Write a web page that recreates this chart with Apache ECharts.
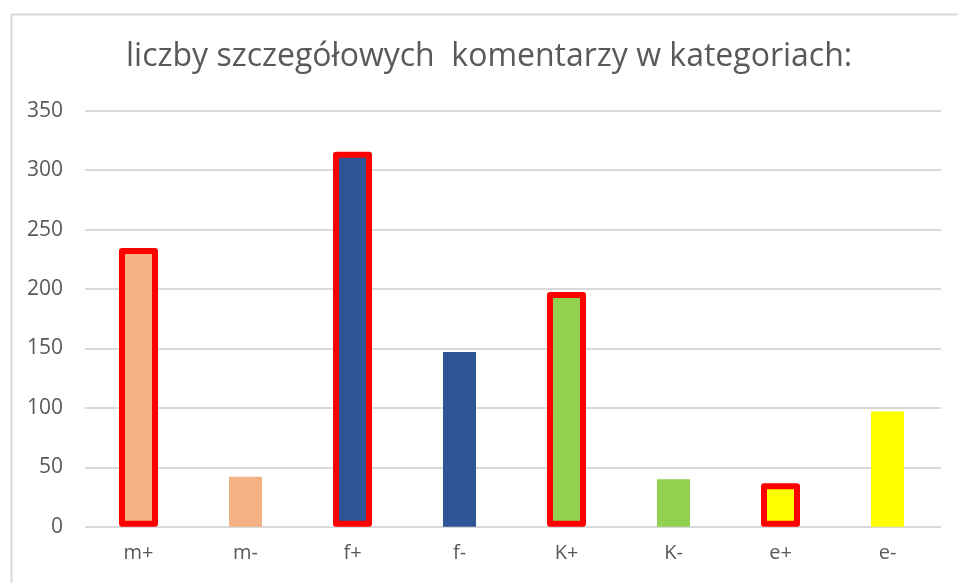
<!DOCTYPE html>
<html>
<head>
<meta charset="utf-8">
<script src="https://cdn.jsdelivr.net/npm/echarts@6/dist/echarts.min.js"></script>
<style>
  html, body { margin: 0; padding: 0; background: #fff; }
  #chart { width: 958px; height: 583px; }
</style>
</head>
<body>
<div id="chart"></div>
<script>
// dane wykresu
const categories = ['m+', 'm-', 'f+', 'f-', 'K+', 'K-', 'e+', 'e-']
const values = [232, 42, 313, 147, 195, 40, 34, 97]
// słupki z czerwoną ramką
const outlined = [true, false, true, false, true, false, true, false]
const yTicks = [0, 50, 100, 150, 200, 250, 300, 350]

// kolory wypełnienia dla kategorii
const fillColors = ['#F4B183', '#F4B183', '#2F5597', '#2F5597', '#92D050', '#92D050', '#FFFF00', '#FFFF00']

const myChart = echarts.init(document.getElementById('chart'))

const BAR_W = 33
const BORDER_W = 6

const option = {
  animation: false,
  textStyle: { fontFamily: 'Open Sans' },
  title: {
    text: 'liczby szczegółowych  komentarzy w kategoriach:',
    left: 121,
    top: 36,
    textStyle: {
      color: '#595959',
      fontSize: 32,
      fontWeight: 'normal',
      fontFamily: 'Open Sans'
    }
  },
  // ramka obszaru wykresu
  graphic: [{
    type: 'rect',
    left: 9,
    top: 12,
    shape: { width: 1000, height: 600 },
    style: { fill: 'none', stroke: '#D9D9D9', lineWidth: 2 },
    silent: true
  }],
  grid: {
    left: 85,
    right: 17,
    top: 110.7,
    bottom: 56.3
  },
  xAxis: {
    type: 'category',
    data: categories,
    axisLine: { show: false },
    axisTick: { show: false },
    axisLabel: {
      color: '#595959',
      fontSize: 20,
      margin: 17
    }
  },
  yAxis: {
    type: 'value',
    min: yTicks[0],
    max: yTicks[yTicks.length - 1],
    interval: 50,
    axisLine: { show: false },
    axisTick: { show: false },
    axisLabel: {
      color: '#595959',
      fontSize: 21,
      margin: 22
    },
    splitLine: {
      lineStyle: { color: '#D9D9D9', width: 2 }
    }
  },
  series: [{
    type: 'custom',
    data: values.map((v, i) => [i, v]),
    renderItem: function (params, api) {
      const idx = api.value(0)
      const top = api.coord([idx, api.value(1)])
      const base = api.coord([idx, 0])
      const x = top[0] - BAR_W / 2
      if (!outlined[idx]) {
        return {
          type: 'rect',
          shape: { x: x, y: top[1], width: BAR_W, height: base[1] - top[1] },
          style: { fill: fillColors[idx] }
        }
      }
      // ramka wyśrodkowana na krawędzi słupka, dół nad osią
      const bottom = base[1] - BORDER_W / 2
      return {
        type: 'rect',
        shape: { x: x, y: top[1], width: BAR_W, height: bottom - top[1] },
        style: {
          fill: fillColors[idx],
          stroke: '#FF0000',
          lineWidth: BORDER_W,
          lineJoin: 'round'
        }
      }
    }
  }]
}

myChart.setOption(option)
</script>
</body>
</html>
